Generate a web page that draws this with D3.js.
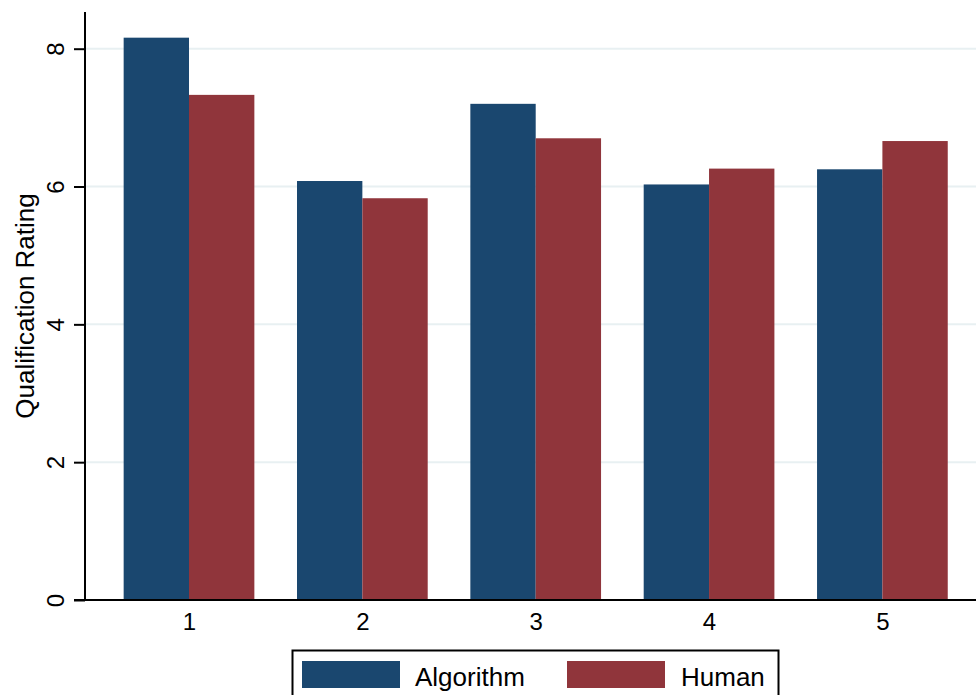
<!DOCTYPE html>
<html>
<head>
<meta charset="utf-8">
<script src="https://cdn.jsdelivr.net/npm/d3@7"></script>
<style>
  html, body { margin: 0; padding: 0; background: #fff; }
  svg { display: block; font-family: "Liberation Sans", Arial, sans-serif; }
</style>
</head>
<body>
<svg id="chart" width="976" height="695"></svg>
<script>
const categories = [1, 2, 3, 4, 5];
const seriesNames = ["Algorithm", "Human"];
const algorithm = [8.16, 6.08, 7.20, 6.03, 6.25];
const human = [7.33, 5.83, 6.70, 6.26, 6.66];
const yTicks = [0, 2, 4, 6, 8];
const gridTicks = [2, 4, 6, 8];
const colors = ["#1a476f", "#90353b"];

(function () {
const svg = d3.select("#chart");
const mLeft = 85, mRight = 976, mTop = 12, mBottom = 600;

const x = d3.scaleLinear().domain([0.4, 5.54]).range([mLeft, mRight]);
const y = d3.scaleLinear().domain([0, 8]).range([mBottom, 48.7]);
const barW = x(1.377) - x(1);

// gridlines
svg.append("g").selectAll("line").data(gridTicks).join("line")
  .attr("x1", mLeft).attr("x2", mRight)
  .attr("y1", d => y(d)).attr("y2", d => y(d))
  .attr("stroke", "#e8f0f2").attr("stroke-width", 2);

// bars
const data = categories.map((c, i) => ({ c, vals: [algorithm[i], human[i]] }));
const groups = svg.append("g").selectAll("g").data(data).join("g");
groups.selectAll("rect").data(d => d.vals.map((v, j) => ({ c: d.c, v, j }))).join("rect")
  .attr("x", d => x(d.c) + (d.j === 0 ? -barW : 0))
  .attr("y", d => y(d.v))
  .attr("width", barW)
  .attr("height", d => y(0) - y(d.v))
  .attr("fill", d => colors[d.j]);

// y axis
const yAxis = d3.axisLeft(y).tickValues(yTicks).tickSize(11).tickPadding(10).tickFormat(d3.format("d"));
const ya = svg.append("g").attr("transform", `translate(${mLeft},0)`).call(yAxis);
ya.select(".domain").remove();
ya.selectAll(".tick line").attr("stroke", "#000").attr("stroke-width", 2);
ya.selectAll(".tick text")
  .attr("font-size", 24).attr("fill", "#000")
  .attr("transform", "rotate(-90)")
  .attr("x", 0).attr("y", -21).attr("dy", 0)
  .attr("text-anchor", "middle");
ya.append("line").attr("x1", 0).attr("x2", 0).attr("y1", mTop).attr("y2", mBottom + 1)
  .attr("stroke", "#000").attr("stroke-width", 2);

// x axis
const xAxis = d3.axisBottom(x).tickValues(categories).tickSize(0).tickPadding(12).tickFormat(d3.format("d"));
const xa = svg.append("g").attr("transform", `translate(0,${mBottom})`).call(xAxis);
xa.select(".domain").remove();
xa.selectAll(".tick text").attr("font-size", 24).attr("fill", "#000").attr("dy", 0).attr("y", 30);
xa.append("line").attr("x1", mLeft - 11).attr("x2", mRight).attr("y1", 0).attr("y2", 0)
  .attr("stroke", "#000").attr("stroke-width", 2);

// y label
svg.append("text")
  .attr("transform", `translate(34,306) rotate(-90)`)
  .attr("text-anchor", "middle")
  .attr("font-size", 26).attr("fill", "#000")
  .text("Qualification Rating");

// legend
const lg = svg.append("g");
lg.append("rect").attr("x", 292.5).attr("y", 650.5).attr("width", 486).attr("height", 80)
  .attr("fill", "#fff").attr("stroke", "#000").attr("stroke-width", 2);
const legX = [302, 567];
const legTX = [415, 681];
seriesNames.forEach((n, i) => {
  lg.append("rect").attr("x", legX[i]).attr("y", 661).attr("width", 98).attr("height", 27)
    .attr("fill", colors[i]);
  lg.append("text").attr("x", legTX[i]).attr("y", 685.5).attr("font-size", 26).attr("fill", "#000").text(n);
});
})();
</script>
</body>
</html>
